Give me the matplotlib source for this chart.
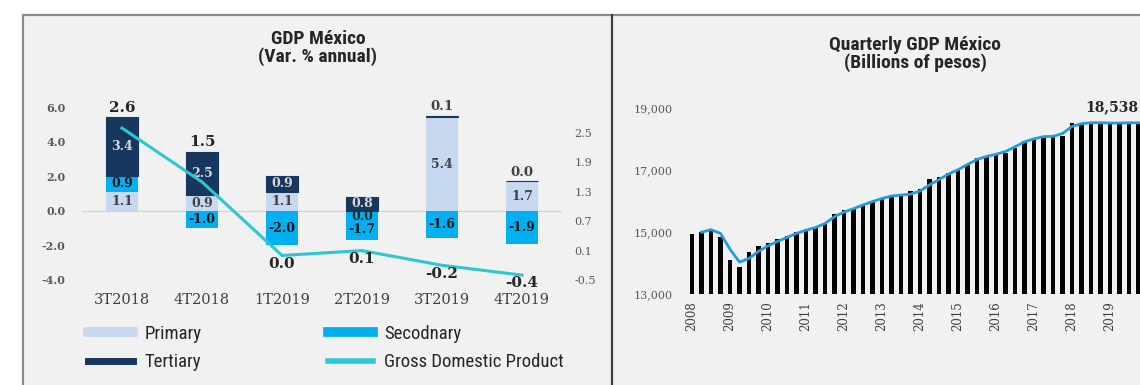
import matplotlib
matplotlib.use("Agg")
import matplotlib.pyplot as plt
from matplotlib.patches import Rectangle
from matplotlib.lines import Line2D
from matplotlib import font_manager
import numpy as np

# ---- Annual growth by sector (percent) ----
quarters = ["3T2018", "4T2018", "1T2019", "2T2019", "3T2019", "4T2019"]
primary = [1.1, 0.9, 1.1, 0.0, 5.4, 1.7]
secondary = [0.9, -1.0, -2.0, -1.7, -1.6, -1.9]
tertiary = [3.4, 2.5, 0.9, 0.8, 0.1, 0.0]
gdp_growth = [2.6, 1.5, 0.0, 0.1, -0.2, -0.4]

# ---- Quarterly GDP level (billions of pesos), 2008Q1 .. 2019Q4 ----
years = [str(y) for y in range(2008, 2020)]
gdp_level = [
    14936, 15010, 15042, 14829,
    14107, 13860, 14345, 14539,
    14645, 14774, 14882, 15010,
    15097, 15183, 15258, 15581,
    15720, 15764, 15903, 16011,
    16119, 16194, 16230, 16333,
    16409, 16710, 16796, 16925,
    17032, 17194, 17409, 17462,
    17516, 17570, 17732, 17946,
    18023, 18107, 18129, 18107,
    18539, 18484, 18539, 18500,
    18500, 18500, 18539, 18538,
]
gdp_trend = [
    np.nan, 15000, 15080, 14960,
    14450, 14030, 14150, 14380,
    14560, 14700, 14830, 14960,
    15060, 15150, 15280, 15500,
    15650, 15760, 15880, 15990,
    16090, 16170, 16200, 16230,
    16330, 16530, 16700, 16880,
    17020, 17190, 17350, 17450,
    17520, 17610, 17760, 17920,
    18020, 18090, 18100, 18190,
    18420, 18510, 18540, 18540,
    18530, 18530, 18538, 18538,
]

W, H = 1140, 385


def fx(px):
    return px / W


def fy(py):
    return 1 - py / H


def first_font(names):
    avail = {f.name for f in font_manager.fontManager.ttflist}
    for n in names:
        if n in avail:
            return n
    return "DejaVu Sans"


NARROW = first_font(["Liberation Sans Narrow", "Roboto Condensed", "Liberation Sans"])
SERIF = first_font(["DejaVu Serif", "Liberation Serif"])

C_PRIM = "#c6d9f1"
C_SEC = "#00b0f0"
C_TER = "#17375e"
C_GDP = "#2cc7d0"
C_TICK = "#595959"
C_TEXT = "#262626"

fig = plt.figure(figsize=(W / 100, H / 100), dpi=100)
fig.patch.set_facecolor("white")

# panel frame and divider
fig.add_artist(Rectangle((fx(23), fy(392)), fx(1150) - fx(23), fy(15) - fy(392),
                         transform=fig.transFigure, facecolor="#f1f1f1",
                         edgecolor="#8a8a8a", lw=1.6, zorder=-10))
fig.add_artist(Line2D([fx(612), fx(612)], [fy(15), fy(390)], transform=fig.transFigure,
                      color="#3f3f3f", lw=1.6, zorder=-5))

# ================= left panel: growth by sector =================
ax = fig.add_axes([fx(82), fy(280), fx(562) - fx(82), fy(107) - fy(280)])
ax.set_facecolor("none")
x = np.arange(len(quarters))
width = 0.4

pos_base = np.zeros(len(x))
neg_base = np.zeros(len(x))
segments = {}
for name, vals, col in [("Primary", primary, C_PRIM),
                        ("Secodnary", secondary, C_SEC),
                        ("Tertiary", tertiary, C_TER)]:
    vals = np.array(vals, dtype=float)
    bottoms = np.where(vals >= 0, pos_base, neg_base)
    ax.bar(x, vals, width, bottom=bottoms, color=col,
           edgecolor=col, linewidth=0.8 if name == "Tertiary" else 0, zorder=2)
    segments[name] = (vals, bottoms)
    pos_base = pos_base + np.where(vals >= 0, vals, 0)
    neg_base = neg_base + np.where(vals < 0, vals, 0)

stack_top = pos_base
ax.axhline(0, color="#d2d2d2", lw=0.8, zorder=1)

lab_kw = dict(ha="center", va="center", fontsize=9, fontweight="bold", family=SERIF, zorder=4)
for i in x:
    # primary
    v, b = segments["Primary"][0][i], segments["Primary"][1][i]
    if v == 0:
        ax.text(i, -0.35, f"{v:.1f}", color=C_TEXT, **lab_kw)
    else:
        ax.text(i, b + v / 2, f"{v:.1f}", color="#404040", **lab_kw)
    # secondary
    v, b = segments["Secodnary"][0][i], segments["Secodnary"][1][i]
    yc = b + v / 2
    if segments["Primary"][0][i] == 0 and v < 0:
        yc = b + v * 0.62
    ax.text(i, yc, f"{v:.1f}", color="#111111", **lab_kw)
    # tertiary
    v, b = segments["Tertiary"][0][i], segments["Tertiary"][1][i]
    if v >= 0.5:
        ax.text(i, b + v / 2, f"{v:.1f}", color="#d9d9d9", **lab_kw)
    else:
        ax.annotate(f"{v:.1f}", (i, stack_top[i]), xytext=(0, 2), textcoords="offset points",
                    ha="center", va="bottom", fontsize=9.5, fontweight="bold",
                    family=SERIF, color="#404040")

ax.set_xlim(-0.5, len(x) - 0.5)
ax.set_ylim(-4, 6)
ax.set_yticks([-4, -2, 0, 2, 4, 6])
ax.set_yticklabels([f"{t:.1f}" for t in [-4, -2, 0, 2, 4, 6]])
ax.set_xticks(x)
ax.set_xticklabels(quarters)
ax.tick_params(axis="y", length=0, pad=12, labelsize=8, labelcolor=C_TICK)
ax.tick_params(axis="x", length=0, pad=9, labelsize=10.5, labelcolor="#404040")
for lab in ax.get_yticklabels():
    lab.set_fontfamily(SERIF)
    lab.set_fontweight("bold")
for lab in ax.get_xticklabels():
    lab.set_fontfamily(SERIF)
for s in ax.spines.values():
    s.set_visible(False)

ax2 = ax.twinx()
ax2.set_ylim(-0.5, 3.03)
rticks = [-0.5, 0.1, 0.7, 1.3, 1.9, 2.5]
ax2.set_yticks(rticks)
ax2.set_yticklabels([f"{t:.1f}" for t in rticks])
ax2.tick_params(axis="y", length=0, pad=9, labelsize=8, labelcolor=C_TICK)
for lab in ax2.get_yticklabels():
    lab.set_fontfamily(SERIF)
for s in ax2.spines.values():
    s.set_visible(False)
ax2.plot(x, gdp_growth, color=C_GDP, lw=2.2, zorder=3)

big_kw = dict(ha="center", fontsize=11, fontweight="bold", family=SERIF, color=C_TEXT)
for i, g in enumerate(gdp_growth):
    if g >= 1.0:
        ax.annotate(f"{g:.1f}", (i, stack_top[i]), xytext=(0, 2), textcoords="offset points",
                    va="bottom", **big_kw)
    else:
        ax2.annotate(f"{g:.1f}", (i, g), xytext=(0, -6), textcoords="offset points",
                     va="center", **big_kw)

fig.text(fx(318), fy(48), "GDP México\n(Var. % annual)", ha="center", va="center",
         fontsize=14, fontweight="bold", family=NARROW, color=C_TEXT, linespacing=1.0)

leg_kw = dict(loc="center left", frameon=False, handlelength=2.4,
              handletextpad=0.6, labelspacing=0.55, borderpad=0, borderaxespad=0,
              prop={"family": NARROW, "size": 13.5})
l1 = fig.legend([Line2D([], [], color=C_PRIM, lw=7), Line2D([], [], color=C_TER, lw=5)],
                ["Primary", "Tertiary"], bbox_to_anchor=(fx(88), fy(348)), **leg_kw)
l2 = fig.legend([Line2D([], [], color=C_SEC, lw=7), Line2D([], [], color=C_GDP, lw=4)],
                ["Secodnary", "Gross Domestic Product"], bbox_to_anchor=(fx(328), fy(348)), **leg_kw)
for lg in (l1, l2):
    for t in lg.get_texts():
        t.set_color(C_TEXT)

# ================= right panel: quarterly GDP level =================
y_lo, y_hi = 13000, 19600
px_per_unit = (294 - 108.5) / 6000
top_px = 294 - (y_hi - y_lo) * px_per_unit
n = len(gdp_level)
axr = fig.add_axes([fx(682.5), fy(294), (49 * 9.5) / W, (294 - top_px) / H])
axr.set_facecolor("none")
xi = np.arange(n)
axr.bar(xi, np.array(gdp_level) - y_lo, 0.5, bottom=y_lo, color="black", zorder=2)
axr.plot(xi, gdp_trend, color="#1e9ee0", lw=2.0, zorder=3)
axr.set_xlim(-1, n)
axr.set_ylim(y_lo, y_hi)
axr.set_yticks([13000, 15000, 17000, 19000])
axr.set_yticklabels([f"{t:,}" for t in [13000, 15000, 17000, 19000]])
axr.set_xticks(xi[::4])
axr.set_xticklabels(years, rotation=90)
axr.tick_params(axis="y", length=0, pad=7, labelsize=8, labelcolor=C_TICK)
axr.tick_params(axis="x", length=0, pad=5, labelsize=8.5, labelcolor="#404040")
for lab in axr.get_yticklabels() + axr.get_xticklabels():
    lab.set_fontfamily(SERIF)
for s in axr.spines.values():
    s.set_visible(False)
axr.annotate(f"{gdp_level[-1]:,}", (n - 1, gdp_level[-1]), xytext=(0, 6),
             textcoords="offset points", ha="right", va="bottom", fontsize=10,
             fontweight="bold", family=SERIF, color=C_TEXT)

fig.text(fx(915), fy(54), "Quarterly GDP México\n(Billions of pesos)", ha="center", va="center",
         fontsize=14, fontweight="bold", family=NARROW, color=C_TEXT, linespacing=1.0)

fig.savefig("out.png", dpi=100)
